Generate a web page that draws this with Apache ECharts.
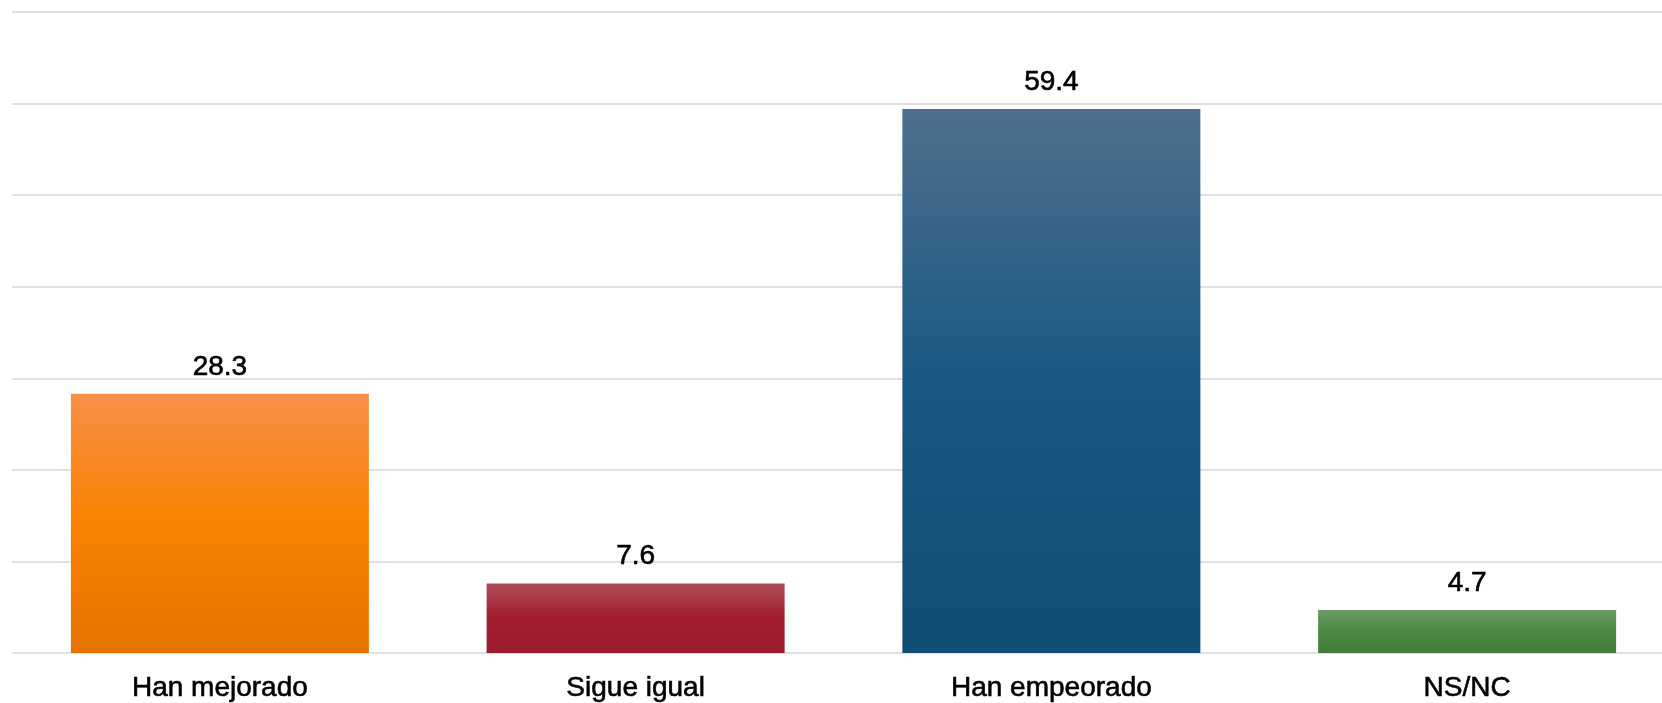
<!DOCTYPE html>
<html>
<head>
  <meta charset="utf-8">
  <title>ECharts</title>
  <script src="https://cdn.jsdelivr.net/npm/echarts@6/dist/echarts.min.js"></script>
  <style>
    html, body { margin: 0; padding: 0; background: #fff; }
  </style>
</head>
<body>
<div id="main" style="width: 1662px;height:703px;"></div>
<script type="text/javascript">
  var categories = ['Han mejorado', 'Sigue igual', 'Han empeorado', 'NS/NC'];
  var values = [28.3, 7.6, 59.4, 4.7];
  var yTicks = [0, 10, 20, 30, 40, 50, 60, 70];

  // top / middle / bottom colour of each bar's gradient
  var barColors = [
    ['#f79049', '#f98200', '#e57300'],
    ['#ac4c56', '#a21d2e', '#9a1b2c'],
    ['#4e6f8d', '#195883', '#114c72'],
    ['#699a64', '#4b8a41', '#417c37']
  ];

  function grad(c) {
    return new echarts.graphic.LinearGradient(0, 0, 0, 1, [
      { offset: 0, color: c[0] },
      { offset: 0.5, color: c[1] },
      { offset: 1, color: c[2] }
    ]);
  }

  var chartDom = document.getElementById('main');
  var myChart = echarts.init(chartDom);
  var option;

  var textStyle = {
    color: '#000',
    fontSize: 28,
    fontFamily: 'Liberation Sans, Arial, sans-serif',
    textBorderColor: '#000',
    textBorderWidth: 0.6
  };

  option = {
    animation: false,
    grid: {
      left: 12,
      right: -13,
      top: 12,
      bottom: 50,
      outerBoundsMode: 'none',
      containLabel: false
    },
    xAxis: {
      type: 'category',
      data: categories,
      axisLine: { show: false },
      axisTick: { show: false },
      axisLabel: Object.assign({ margin: 21 }, textStyle)
    },
    yAxis: {
      type: 'value',
      min: yTicks[0],
      max: yTicks[yTicks.length - 1],
      interval: 10,
      axisLine: { show: false },
      axisTick: { show: false },
      axisLabel: { show: false },
      splitLine: {
        lineStyle: { color: '#e0e0e0', width: 2 }
      }
    },
    series: [
      {
        type: 'bar',
        barWidth: 298,
        data: values.map(function (v, i) {
          return { value: v, itemStyle: { color: grad(barColors[i]) } };
        }),
        label: Object.assign({
          show: true,
          position: 'top',
          distance: 13,
          formatter: function (p) { return p.value.toFixed(1); }
        }, textStyle)
      }
    ]
  };

  option && myChart.setOption(option);
</script>
</body>
</html>
